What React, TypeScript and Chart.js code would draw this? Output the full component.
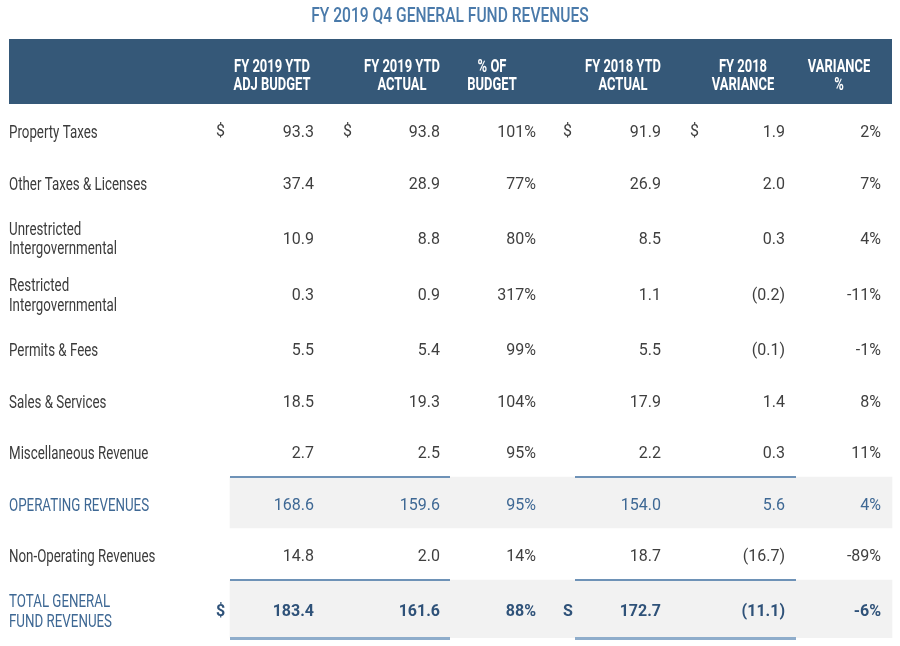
import React, { useEffect, useRef } from "react";
import { Chart, registerables } from "chart.js";
Chart.register(...registerables);

// ---------- data ----------
const TITLE = "FY 2019 Q4 GENERAL FUND REVENUES";
const HEADERS = [
  ["FY 2019 YTD", "ADJ BUDGET"],
  ["FY 2019 YTD", "ACTUAL"],
  ["% OF", "BUDGET"],
  ["FY 2018 YTD", "ACTUAL"],
  ["FY 2018", "VARIANCE"],
  ["VARIANCE", "%"],
];
const ROW_LABELS = [
  ["Property Taxes"],
  ["Other Taxes & Licenses"],
  ["Unrestricted", "Intergovernmental"],
  ["Restricted", "Intergovernmental"],
  ["Permits & Fees"],
  ["Sales & Services"],
  ["Miscellaneous Revenue"],
  ["OPERATING REVENUES"],
  ["Non-Operating Revenues"],
  ["TOTAL GENERAL", "FUND REVENUES"],
];
const ROW_KIND = ["item", "item", "item", "item", "item", "item", "item", "subtotal", "item", "total"];
const BUDGET_2019 = [93.3, 37.4, 10.9, 0.3, 5.5, 18.5, 2.7, 168.6, 14.8, 183.4];
const ACTUAL_2019 = [93.8, 28.9, 8.8, 0.9, 5.4, 19.3, 2.5, 159.6, 2.0, 161.6];
const PCT_OF_BUDGET = [101, 77, 80, 317, 99, 104, 95, 95, 14, 88];
const ACTUAL_2018 = [91.9, 26.9, 8.5, 1.1, 5.5, 17.9, 2.2, 154.0, 18.7, 172.7];
const VARIANCE_2018 = [1.9, 2.0, 0.3, -0.2, -0.1, 1.4, 0.3, 5.6, -16.7, -11.1];
const VARIANCE_PCT = [2, 7, 4, -11, -1, 8, 11, 4, -89, -6];
const BUDGET_SYM = ["$", "", "", "", "", "", "", "", "", "$"];
const ACTUAL_SYM = ["$", "", "", "", "", "", "", "", "", ""];
const FY18_SYM = ["$", "", "", "", "", "", "", "", "", "S"];
const VAR_SYM = ["$", "", "", "", "", "", "", "", "", ""];

// ---------- layout (x in 0..900 scale units, row heights in y units) ----------
const LAYOUT = {
  labelX: 9,
  right: [314, 440, 536, 661, 785, 881],
  sym: [216, 343, null, 563, 690, null] as (number | null)[],
  headerCenter: [272, 402, 492, 623, 743, 839],
  bandFrom: 230,
  bandTo: 892,
  lineSegs: [[230, 450], [575, 796]],
  headerTop: 39,
  headerBottom: 104,
  headerLeft: 9,
  headerRight: 892,
  rowHeights: [51, 53, 57, 56, 53, 51, 52, 51, 52, 58],
};

const ROW_TOTAL = LAYOUT.rowHeights.reduce((a, b) => a + b, 0);
const ROW_CENTERS = LAYOUT.rowHeights.map(
  (h, i) => LAYOUT.rowHeights.slice(0, i).reduce((a, b) => a + b, 0) + h / 2
);

const fmtNum = (v: number) => (v < 0 ? `(${Math.abs(v).toFixed(1)})` : v.toFixed(1));
const fmtPct = (v: number) => `${v}%`;

function drawText(
  ctx: CanvasRenderingContext2D,
  text: string,
  x: number,
  y: number,
  align: CanvasTextAlign,
  font: string,
  color: string,
  sx = 1
) {
  ctx.save();
  ctx.translate(x, y);
  ctx.scale(sx, 1);
  ctx.font = font;
  ctx.fillStyle = color;
  ctx.textAlign = align;
  ctx.textBaseline = "middle";
  ctx.fillText(text, 0, 0);
  ctx.restore();
}

const tablePlugin = {
  id: "tablePlugin",
  beforeDraw(chart: any) {
    const ctx: CanvasRenderingContext2D = chart.ctx;
    const x = chart.scales.x;
    ctx.save();
    ctx.fillStyle = "#ffffff";
    ctx.fillRect(0, 0, chart.width, chart.height);
    drawText(ctx, TITLE, x.getPixelForValue(450), 17, "center", "500 20px Roboto", "#4a7aaa", 0.78);
    const l = x.getPixelForValue(LAYOUT.headerLeft);
    const r = x.getPixelForValue(LAYOUT.headerRight);
    ctx.fillStyle = "#355878";
    ctx.fillRect(l, LAYOUT.headerTop, r - l, LAYOUT.headerBottom - LAYOUT.headerTop);
    HEADERS.forEach((lines, j) => {
      const cx = x.getPixelForValue(LAYOUT.headerCenter[j]);
      lines.forEach((t, k) => {
        drawText(ctx, t, cx, 67.5 + k * 17.5, "center", "bold 18px Roboto", "#ffffff", 0.72);
      });
    });
    ctx.restore();
  },
  afterDatasetsDraw(chart: any) {
    const ctx: CanvasRenderingContext2D = chart.ctx;
    const x = chart.scales.x;
    const y = chart.scales.y;
    ctx.save();
    ROW_KIND.forEach((kind, i) => {
      if (kind === "item") return;
      const top = y.getPixelForValue(ROW_CENTERS[i] - LAYOUT.rowHeights[i] / 2);
      const bottom = y.getPixelForValue(ROW_CENTERS[i] + LAYOUT.rowHeights[i] / 2);
      LAYOUT.lineSegs.forEach(([a, b]) => {
        const pa = x.getPixelForValue(a);
        const pb = x.getPixelForValue(b);
        ctx.fillStyle = "#6e92b7";
        ctx.fillRect(pa, top - 1, pb - pa, 2);
        if (kind === "total") {
          ctx.fillStyle = "#8fadcb";
          ctx.fillRect(pa, bottom - 1, pb - pa, 3);
        }
      });
    });
    ROW_LABELS.forEach((lines, i) => {
      const kind = ROW_KIND[i];
      const cy = y.getPixelForValue(ROW_CENTERS[i]);
      const labelColor = kind === "item" ? "#3b3b3b" : "#3e6894";
      const n = lines.length;
      lines.forEach((t, k) => {
        drawText(ctx, t, x.getPixelForValue(LAYOUT.labelX), cy + 3.5 + (k - (n - 1) / 2) * 19.5, "left", "18px Roboto", labelColor, 0.74);
      });
      const valColor = kind === "item" ? "#3f3f3f" : kind === "subtotal" ? "#3e6894" : "#2f5279";
      const valFont = kind === "total" ? "bold 16px Roboto" : "16px Roboto";
      const cells = [
        fmtNum(BUDGET_2019[i]),
        fmtNum(ACTUAL_2019[i]),
        fmtPct(PCT_OF_BUDGET[i]),
        fmtNum(ACTUAL_2018[i]),
        fmtNum(VARIANCE_2018[i]),
        fmtPct(VARIANCE_PCT[i]),
      ];
      cells.forEach((t, j) => {
        drawText(ctx, t, x.getPixelForValue(LAYOUT.right[j]), cy + 3, "right", valFont, valColor, 1);
      });
      const syms = [BUDGET_SYM[i], ACTUAL_SYM[i], "", FY18_SYM[i], VAR_SYM[i], ""];
      syms.forEach((s, j) => {
        const sx = LAYOUT.sym[j];
        if (!s || sx === null) return;
        drawText(ctx, s, x.getPixelForValue(sx), cy + 2.5, "left", valFont, valColor, 1);
      });
    });
    ctx.restore();
  },
};

export default function App() {
  const ref = useRef<HTMLCanvasElement | null>(null);
  useEffect(() => {
    if (!ref.current) return;
    const bandDataset = (kind: string) => ({
      data: ROW_KIND.map((k, i) =>
        k === kind ? { x: [LAYOUT.bandFrom, LAYOUT.bandTo], y: ROW_CENTERS[i] } : null
      ).filter(Boolean) as any,
      backgroundColor: "#f2f2f2",
      borderWidth: 0,
      barThickness: LAYOUT.rowHeights[ROW_KIND.indexOf(kind)],
      grouped: false,
    });
    const chart = new Chart(ref.current, {
      type: "bar",
      data: {
        datasets: [bandDataset("subtotal"), bandDataset("total")] as any,
      },
      options: {
        indexAxis: "y",
        responsive: false,
        animation: false,
        devicePixelRatio: 1,
        layout: { padding: { top: LAYOUT.headerBottom, bottom: 646 - LAYOUT.headerBottom - ROW_TOTAL, left: 0, right: 0 } },
        plugins: { legend: { display: false }, tooltip: { enabled: false }, title: { display: false } },
        scales: {
          x: { type: "linear", min: 0, max: 900, display: false, offset: false },
          y: { type: "linear", min: 0, max: ROW_TOTAL, reverse: true, display: false, offset: false },
        },
      },
      plugins: [tablePlugin],
    });
    return () => chart.destroy();
  }, []);
  return (
    <div style={{ position: "fixed", left: 0, top: 0, width: 900, height: 646, background: "#fff" }}>
      <canvas ref={ref} width={900} height={646} style={{ display: "block" }} />
    </div>
  );
}
